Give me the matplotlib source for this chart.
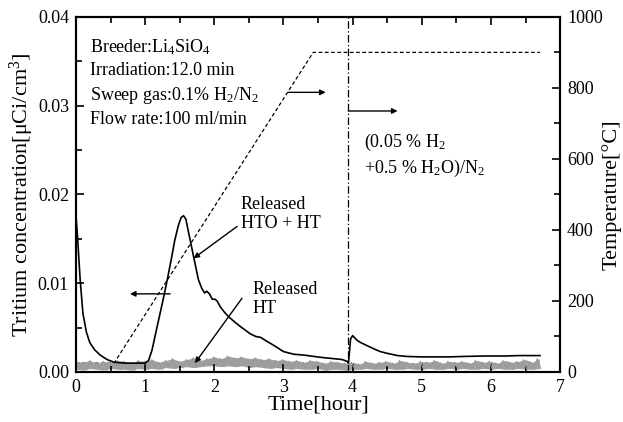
import matplotlib
matplotlib.use('Agg')
import matplotlib.pyplot as plt
import numpy as np

plt.rcParams['font.family'] = ['Liberation Serif', 'DejaVu Serif']
plt.rcParams['mathtext.fontset'] = 'custom'
plt.rcParams['mathtext.rm'] = 'Liberation Serif'
plt.rcParams['mathtext.it'] = 'Liberation Serif:italic'

# released HTO + HT (hour, uCi/cm3 x 1e-3)
t_hto = [0.0, 0.02, 0.06, 0.1, 0.15, 0.2, 0.27, 0.35, 0.45, 0.55, 0.7, 0.85, 1.0,
         1.05, 1.1, 1.17, 1.25, 1.32, 1.38, 1.43, 1.48, 1.52, 1.555, 1.59, 1.62,
         1.65, 1.70, 1.77, 1.82, 1.86, 1.89, 1.93, 1.97, 2.01, 2.04, 2.09, 2.15,
         2.21, 2.3, 2.38, 2.45, 2.52, 2.6, 2.67, 2.75, 2.86, 3.0, 3.15, 3.3, 3.49,
         3.6, 3.73, 3.85, 3.92, 3.94, 3.97, 4.0, 4.06, 4.12, 4.2, 4.31, 4.4, 4.5,
         4.65, 4.79, 5.0, 5.18, 5.4, 5.6, 5.9, 6.2, 6.4, 6.71]
c_hto = [17.5, 15.5, 10.4, 6.6, 4.5, 3.3, 2.5, 1.9, 1.4, 1.1, 1.0, 1.0, 1.0,
         1.3, 2.5, 5.0, 7.8, 10.4, 12.8, 14.9, 16.5, 17.4, 17.6, 17.2, 16.0,
         14.9, 13.0, 10.4, 9.4, 8.9, 9.1, 8.8, 8.2, 8.2, 8.0, 7.3, 6.7,
         6.2, 5.6, 5.1, 4.7, 4.3, 4.0, 3.9, 3.5, 3.0, 2.3, 2.0, 1.9, 1.7,
         1.6, 1.5, 1.4, 1.2, 1.0, 3.7, 4.1, 3.6, 3.3, 3.0, 2.6, 2.3, 2.1,
         1.85, 1.75, 1.7, 1.7, 1.7, 1.75, 1.8, 1.8, 1.85, 1.85]

# released HT, noisy band (every 0.1 hour, x 1e-3)
ht_hi = [1.2, 1.1, 1.3, 1.0, 1.2, 1.1, 1.3, 1.2, 1.0, 1.3,
         1.2, 1.4, 1.1, 1.3, 1.5, 1.2, 1.4, 1.6, 1.3, 1.5,
         1.7, 1.5, 1.8, 1.6, 1.7, 1.5, 1.6, 1.4, 1.5, 1.3,
         1.4, 1.2, 1.3, 1.1, 1.3, 1.2, 1.0, 1.2, 1.1, 1.0,
         1.1, 0.9, 1.2, 1.0, 1.1, 1.2, 1.0, 1.3, 1.1, 1.0,
         1.2, 1.1, 1.3, 1.0, 1.2, 1.1, 1.2, 1.0, 1.3, 1.1,
         1.2, 1.0, 1.3, 1.1, 1.2, 1.4, 1.1, 1.5]
ht_lo = [0.3, 0.2, 0.4, 0.3, 0.2, 0.4, 0.3, 0.3, 0.2, 0.4,
         0.3, 0.4, 0.3, 0.5, 0.4, 0.5, 0.6, 0.5, 0.6, 0.7,
         0.7, 0.6, 0.7, 0.6, 0.7, 0.5, 0.6, 0.5, 0.4, 0.5,
         0.4, 0.3, 0.4, 0.3, 0.3, 0.4, 0.2, 0.3, 0.3, 0.2,
         0.3, 0.3, 0.4, 0.3, 0.3, 0.4, 0.3, 0.3, 0.4, 0.3,
         0.3, 0.4, 0.3, 0.3, 0.4, 0.3, 0.4, 0.3, 0.3, 0.4,
         0.3, 0.4, 0.3, 0.3, 0.4, 0.3, 0.3, 0.4]

# temperature program
t_temp = [0.0, 0.55, 3.43, 6.71]
temp = [25, 25, 900, 900]

t_switch = 3.94

c_hto = np.array(c_hto) * 1e-3
ht_hi = np.array(ht_hi) * 1e-3
ht_lo = np.array(ht_lo) * 1e-3
t_ht = np.linspace(0, 6.7, len(ht_hi))
# zigzag between the envelopes to mimic the noisy trace
zig = np.ravel(np.column_stack([ht_hi, ht_lo]))
t_zig = np.linspace(0, 6.72, len(zig))

fig = plt.figure(figsize=(6.23, 4.22), dpi=100)
ax = fig.add_axes([0.122, 0.1185, 0.777, 0.8415])
ax2 = ax.twinx()
ax.set_zorder(2)
ax.patch.set_visible(False)

ax.fill_between(t_ht, ht_lo, ht_hi, color='#a0a0a0', lw=0)
ax.plot(t_zig, zig, color='#9a9a9a', lw=0.8)
ax.plot(t_hto, c_hto, color='black', lw=1.2)
ax.axvline(t_switch, color='black', lw=0.9, ls=(0, (6, 2, 1, 2)))
ax2.plot(t_temp, temp, color='black', lw=0.9, ls=(0, (3, 2)))

ax.set_xlim(0, 7)
ax.set_ylim(0, 0.04)
ax2.set_ylim(0, 1000)
ax.set_xticks(np.arange(0, 8, 1))
ax.set_xticks(np.arange(0, 7.5, 0.5), minor=True)
ax.set_yticks([0.0, 0.01, 0.02, 0.03, 0.04])
ax.set_yticklabels(['0.00', '0.01', '0.02', '0.03', '0.04'])
ax.set_yticks(np.arange(0, 0.041, 0.005), minor=True)
ax2.set_yticks([0, 200, 400, 600, 800, 1000])
ax2.set_yticks(np.arange(0, 1001, 100), minor=True)

ax.tick_params(which='both', direction='in', top=True, right=False,
               labelsize=13, pad=5, width=1.2)
ax.tick_params(which='major', length=6)
ax.tick_params(which='minor', length=4)
ax2.tick_params(which='both', direction='in', labelsize=13, pad=5, width=1.2)
ax2.tick_params(which='major', length=6)
ax2.tick_params(which='minor', length=4)
for a in (ax, ax2):
    for s in a.spines.values():
        s.set_linewidth(1.5)

ax.set_xlabel('Time[hour]', fontsize=16, labelpad=0)
ax.set_ylabel('Tritium concentration[μCi/cm$^3$]', fontsize=16, labelpad=1)
ax2.set_ylabel('Temperature[°C]', fontsize=16, labelpad=-1)

info = ('Breeder:Li$_4$SiO$_4$\nIrradiation:12.0 min\n'
        'Sweep gas:0.1% H$_2$/N$_2$\nFlow rate:100 ml/min')
ax.text(0.2, 0.0377, info, fontsize=13, va='top', ha='left', linespacing=1.4)
ax.text(4.17, 0.0271, '(0.05 % H$_2$\n+0.5 % H$_2$O)/N$_2$', fontsize=13,
        va='top', ha='left', linespacing=1.35)
ax.text(2.38, 0.0198, 'Released\nHTO + HT', fontsize=13, va='top', ha='left',
        linespacing=1.15)
ax.text(2.55, 0.0102, 'Released\nHT', fontsize=13, va='top', ha='left',
        linespacing=1.15)

arrow = dict(arrowstyle='-|>', color='black', lw=1.0, mutation_scale=8,
             shrinkA=0, shrinkB=0)
ax.annotate('', xy=(1.7, 0.0128), xytext=(2.33, 0.0164), arrowprops=arrow)
ax.annotate('', xy=(1.72, 0.0010), xytext=(2.4, 0.0083), arrowprops=arrow)
ax.annotate('', xy=(0.78, 0.0088), xytext=(1.36, 0.0088), arrowprops=arrow)
ax.annotate('', xy=(3.61, 0.0315), xytext=(3.07, 0.0315), arrowprops=arrow)
ax.annotate('', xy=(4.65, 0.0294), xytext=(3.94, 0.0294), arrowprops=arrow)

plt.savefig('out.png', dpi=100)
